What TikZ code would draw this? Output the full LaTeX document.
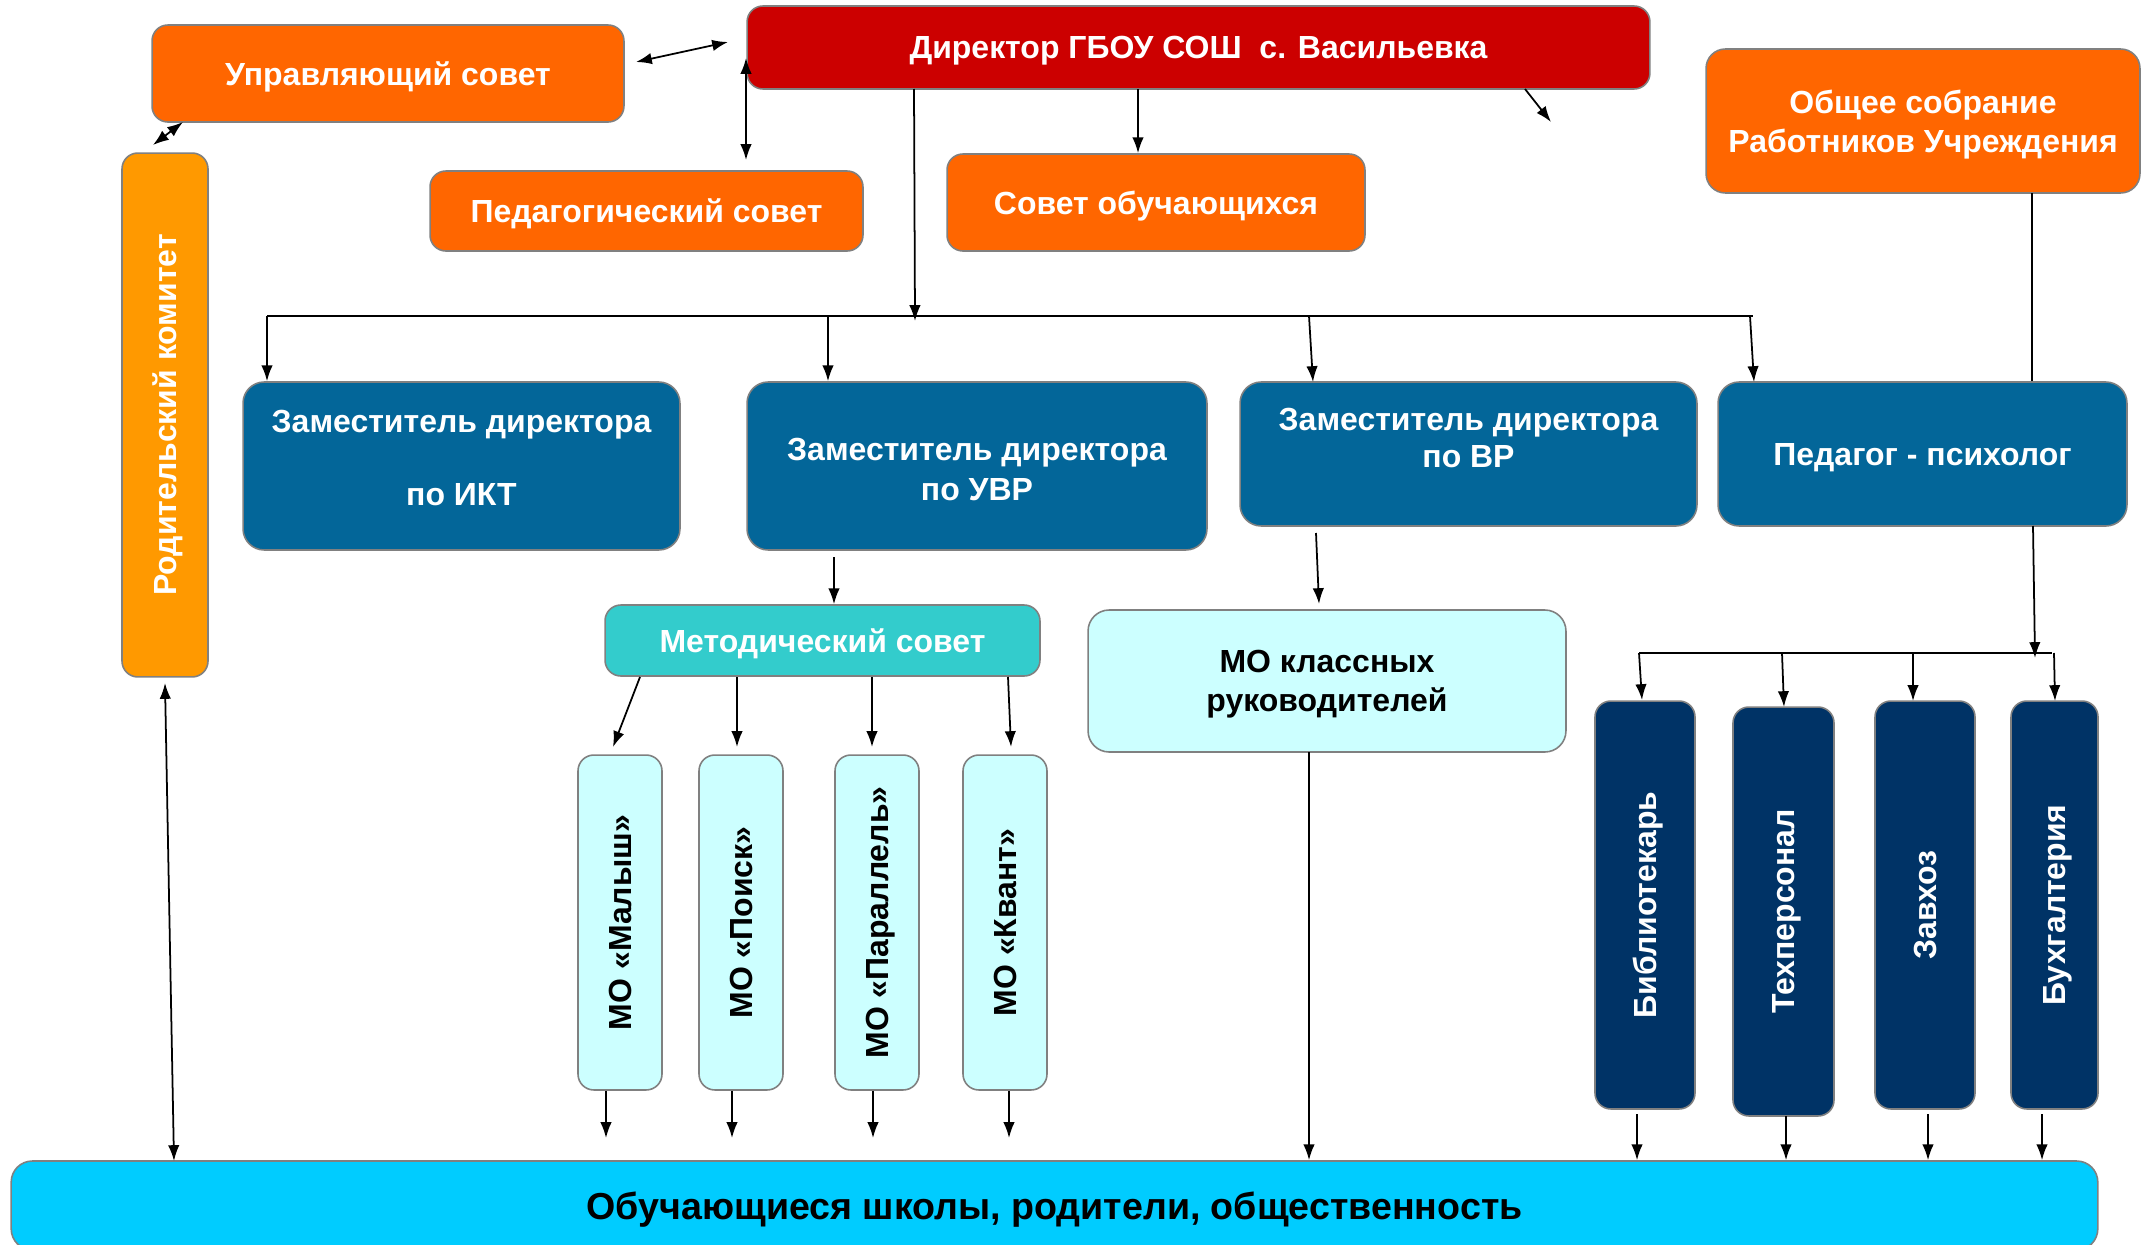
\documentclass[tikz,border=0pt]{standalone}
\usepackage{fontspec}
\setmainfont{Liberation Sans}
\usetikzlibrary{arrows.meta}
\definecolor{cRed}{HTML}{CC0000}
\definecolor{cOrange}{HTML}{FF6600}
\definecolor{cAmber}{HTML}{FF9900}
\definecolor{cBlue}{HTML}{036699}
\definecolor{cTeal}{HTML}{33CCCC}
\definecolor{cPale}{HTML}{CCFFFF}
\definecolor{cNavy}{HTML}{003366}
\definecolor{cSky}{HTML}{00CCFF}
\definecolor{cEdge}{HTML}{808080}
\begin{document}
\begin{tikzpicture}[x=0.02cm,y=-0.02cm,
  box/.style={draw=cEdge,line width=0.9pt,rounded corners=9pt,inner sep=0pt,align=center,text depth=0pt,
    font=\fontsize{18.2}{22}\selectfont\bfseries,text=white},
  txt/.style={inner sep=0pt,align=center,text depth=0pt,font=\fontsize{18.2}{22}\selectfont\bfseries,text=white},
  conn/.style={line width=1pt,-{Latex[length=9pt,width=6.5pt]}},
  both/.style={line width=1pt,{Latex[length=9pt,width=6.5pt]}-{Latex[length=9pt,width=6.5pt]}},
  plain/.style={line width=1pt}]
\useasboundingbox (0,0) rectangle (2143,1244);
\clip (0,0) rectangle (2143,1244);
\fill[white] (0,0) rectangle (2143,1244);

% top row
\node[box,fill=cOrange,minimum width=9.44cm,minimum height=1.94cm] (upr) at (388,73.5) {Управляющий совет};
\node[box,fill=cRed,minimum width=18.06cm,minimum height=1.66cm] (dir) at (1198.5,47.5) {Директор ГБОУ СОШ~ с. Васильевка};
\node[box,fill=cOrange,minimum width=8.66cm,minimum height=1.6cm] (ped) at (646.5,211) {Педагогический совет};
\node[box,fill=cOrange,minimum width=8.36cm,minimum height=1.94cm] (sov) at (1156,202.5) {Совет обучающихся};
\node[box,fill=cOrange,minimum width=8.68cm,minimum height=2.88cm,rounded corners=11pt] (obs) at (1923,121) {Общее собрание\\Работников Учреждения};

% parents committee
\node[box,fill=cAmber,minimum width=1.72cm,minimum height=10.48cm] (rod) at (165,415) {};
\node[txt,rotate=90] (rodt) at (rod.center) {Родительский комитет};

% deputies
\node[box,fill=cBlue,minimum width=8.74cm,minimum height=3.36cm,rounded corners=12pt] (ikt) at (461.5,466) {};
\node[txt] (iktt) at (461.5,458) {Заместитель директора\\[19.5pt]по ИКТ};
\node[box,fill=cBlue,minimum width=9.2cm,minimum height=3.36cm,rounded corners=12pt] (uvr) at (977,466) {};
\node[txt,font=\fontsize{18.2}{22.8}\selectfont\bfseries] (uvrt) at (977,469) {Заместитель директора\\по УВР};
\node[box,fill=cBlue,minimum width=9.14cm,minimum height=2.88cm,rounded corners=12pt] (vr) at (1468.5,454) {};
\node[txt,font=\fontsize{18.2}{21}\selectfont\bfseries] (vrt) at (1468.5,438) {Заместитель директора\\по ВР};
\node[box,fill=cBlue,minimum width=8.18cm,minimum height=2.88cm,rounded corners=12pt] (psy) at (1922.5,454) {Педагог - психолог};

% methodical council and MO
\node[box,fill=cTeal,minimum width=8.7cm,minimum height=1.42cm] (met) at (822.5,640.5) {Методический совет};
\node[box,fill=cPale,text=black,minimum width=9.56cm,minimum height=2.84cm,rounded corners=12pt] (mok) at (1327,681) {МО классных\\руководителей};

\foreach \n/\cx/\t in {m1/620/{МО «Малыш»},m2/741/{МО «Поиск»},m3/877/{МО «Параллель»},m4/1005/{МО «Квант»}}{
  \node[box,fill=cPale,minimum width=1.68cm,minimum height=6.7cm] (\n) at (\cx,922.5) {};
  \node[txt,text=black,rotate=90] (\n t) at (\n.center) {\t};
}

% staff
\node[box,fill=cNavy,minimum width=2.0cm,minimum height=8.16cm] (d1) at (1645,905) {};
\node[txt,rotate=90] (d1t) at (d1.center) {Библиотекарь};
\node[box,fill=cNavy,minimum width=2.02cm,minimum height=8.18cm] (d2) at (1783.5,911.5) {};
\node[txt,rotate=90] (d2t) at (d2.center) {Техперсонал};
\node[box,fill=cNavy,minimum width=2.0cm,minimum height=8.16cm] (d3) at (1925,905) {};
\node[txt,rotate=90] (d3t) at (d3.center) {Завхоз};
\node[box,fill=cNavy,minimum width=1.74cm,minimum height=8.16cm] (d4) at (2054.5,905) {};
\node[txt,rotate=90] (d4t) at (d4.center) {Бухгалтерия};

% bottom
\node[box,fill=cSky,text=black,font=\fontsize{21.4}{24}\selectfont\bfseries,minimum width=41.74cm,minimum height=1.78cm,rounded corners=12pt] (bot) at (1054.5,1205.5) {Обучающиеся школы, родители, общественность};

% ---------- connectors ----------
\coordinate (a1) at (636,62); \coordinate (a2) at (728,42);
\draw[both] (a1) -- (a2);
\coordinate (b1) at (183,122); \coordinate (b2) at (153,145);
\draw[both] (b1) -- (b2);
\coordinate (c1) at (746,58); \coordinate (c2) at (746,160);
\draw[both] (c1) -- (c2);
\coordinate (s1) at (1138,89);
\draw[conn] (s1) -- (s1 |- sov.north);
\coordinate (e1) at (1525,89); \coordinate (e2) at (1551,122);
\draw[conn] (e1) -- (e2);

% main bus
\coordinate (busL) at (267,316); \coordinate (busR) at (1753,316);
\draw[plain] (busL) -- (busR);
\coordinate (dS) at (914,89); \coordinate (dB) at (915,321);
\draw[conn] (dS) -- (dB);
\draw[conn] (busL) -- (busL |- ikt.north);
\coordinate (bu) at (828,316);
\draw[conn] (bu) -- (bu |- uvr.north);
\coordinate (bv) at (1309,316); \coordinate (bvE) at (1313,382);
\draw[conn] (bv) -- (bvE);
\coordinate (bp) at (1750,316); \coordinate (bpE) at (1754,382);
\draw[conn] (bp) -- (bpE);

% general assembly line and right bus
\coordinate (o1) at (2032,193);
\draw[plain] (o1) -- (o1 |- psy.north);
\coordinate (p1) at (2033,526); \coordinate (p2) at (2035,658);
\draw[conn] (p1) -- (p2);
\coordinate (rbL) at (1639,653); \coordinate (rbR) at (2052,653);
\draw[plain] (rbL) -- (rbR);
\draw[conn] (rbL) -- (1642,700);
\coordinate (rb2) at (1782,653); \draw[conn] (rb2) -- (1784,707);
\coordinate (rb3) at (1913,653); \draw[conn] (rb3) -- (1913,701);
\coordinate (rb4) at (2054,653); \draw[conn] (rb4) -- (2055,701);

% UVR -> methodical council
\coordinate (u1) at (834,557);
\draw[conn] (u1) -- (u1 |- met.north);
% methodical council -> MO
\coordinate (k1) at (640,677); \coordinate (k1e) at (613,747); \draw[conn] (k1) -- (k1e);
\coordinate (k2) at (737,677); \coordinate (k2e) at (737,747); \draw[conn] (k2) -- (k2e);
\coordinate (k3) at (872,677); \coordinate (k3e) at (872,747); \draw[conn] (k3) -- (k3e);
\coordinate (k4) at (1008,677); \coordinate (k4e) at (1011,747); \draw[conn] (k4) -- (k4e);
% MO -> bottom (free ends)
\coordinate (q1) at (606,1138); \draw[conn] (q1 |- m1.south) -- (q1);
\coordinate (q2) at (732,1138); \draw[conn] (q2 |- m2.south) -- (q2);
\coordinate (q3) at (873,1138); \draw[conn] (q3 |- m3.south) -- (q3);
\coordinate (q4) at (1009,1138); \draw[conn] (q4 |- m4.south) -- (q4);
% staff -> bottom
\coordinate (t1) at (1637,1114); \draw[conn] (t1) -- (t1 |- bot.north);
\coordinate (t2) at (1786,1116); \draw[conn] (t2) -- (t2 |- bot.north);
\coordinate (t3) at (1928,1114); \draw[conn] (t3) -- (t3 |- bot.north);
\coordinate (t4) at (2042,1114); \draw[conn] (t4) -- (t4 |- bot.north);
% VR -> MO class leaders
\coordinate (v1) at (1316,533); \coordinate (v1e) at (1319,604);
\draw[conn] (v1) -- (v1e);
\coordinate (w1) at (1309,752);
\draw[conn] (w1) -- (w1 |- bot.north);
% parents committee <-> bottom
\coordinate (r1) at (165,683); \coordinate (r2) at (174,1161);
\draw[both] (r1) -- (r2);
\end{tikzpicture}
\end{document}
